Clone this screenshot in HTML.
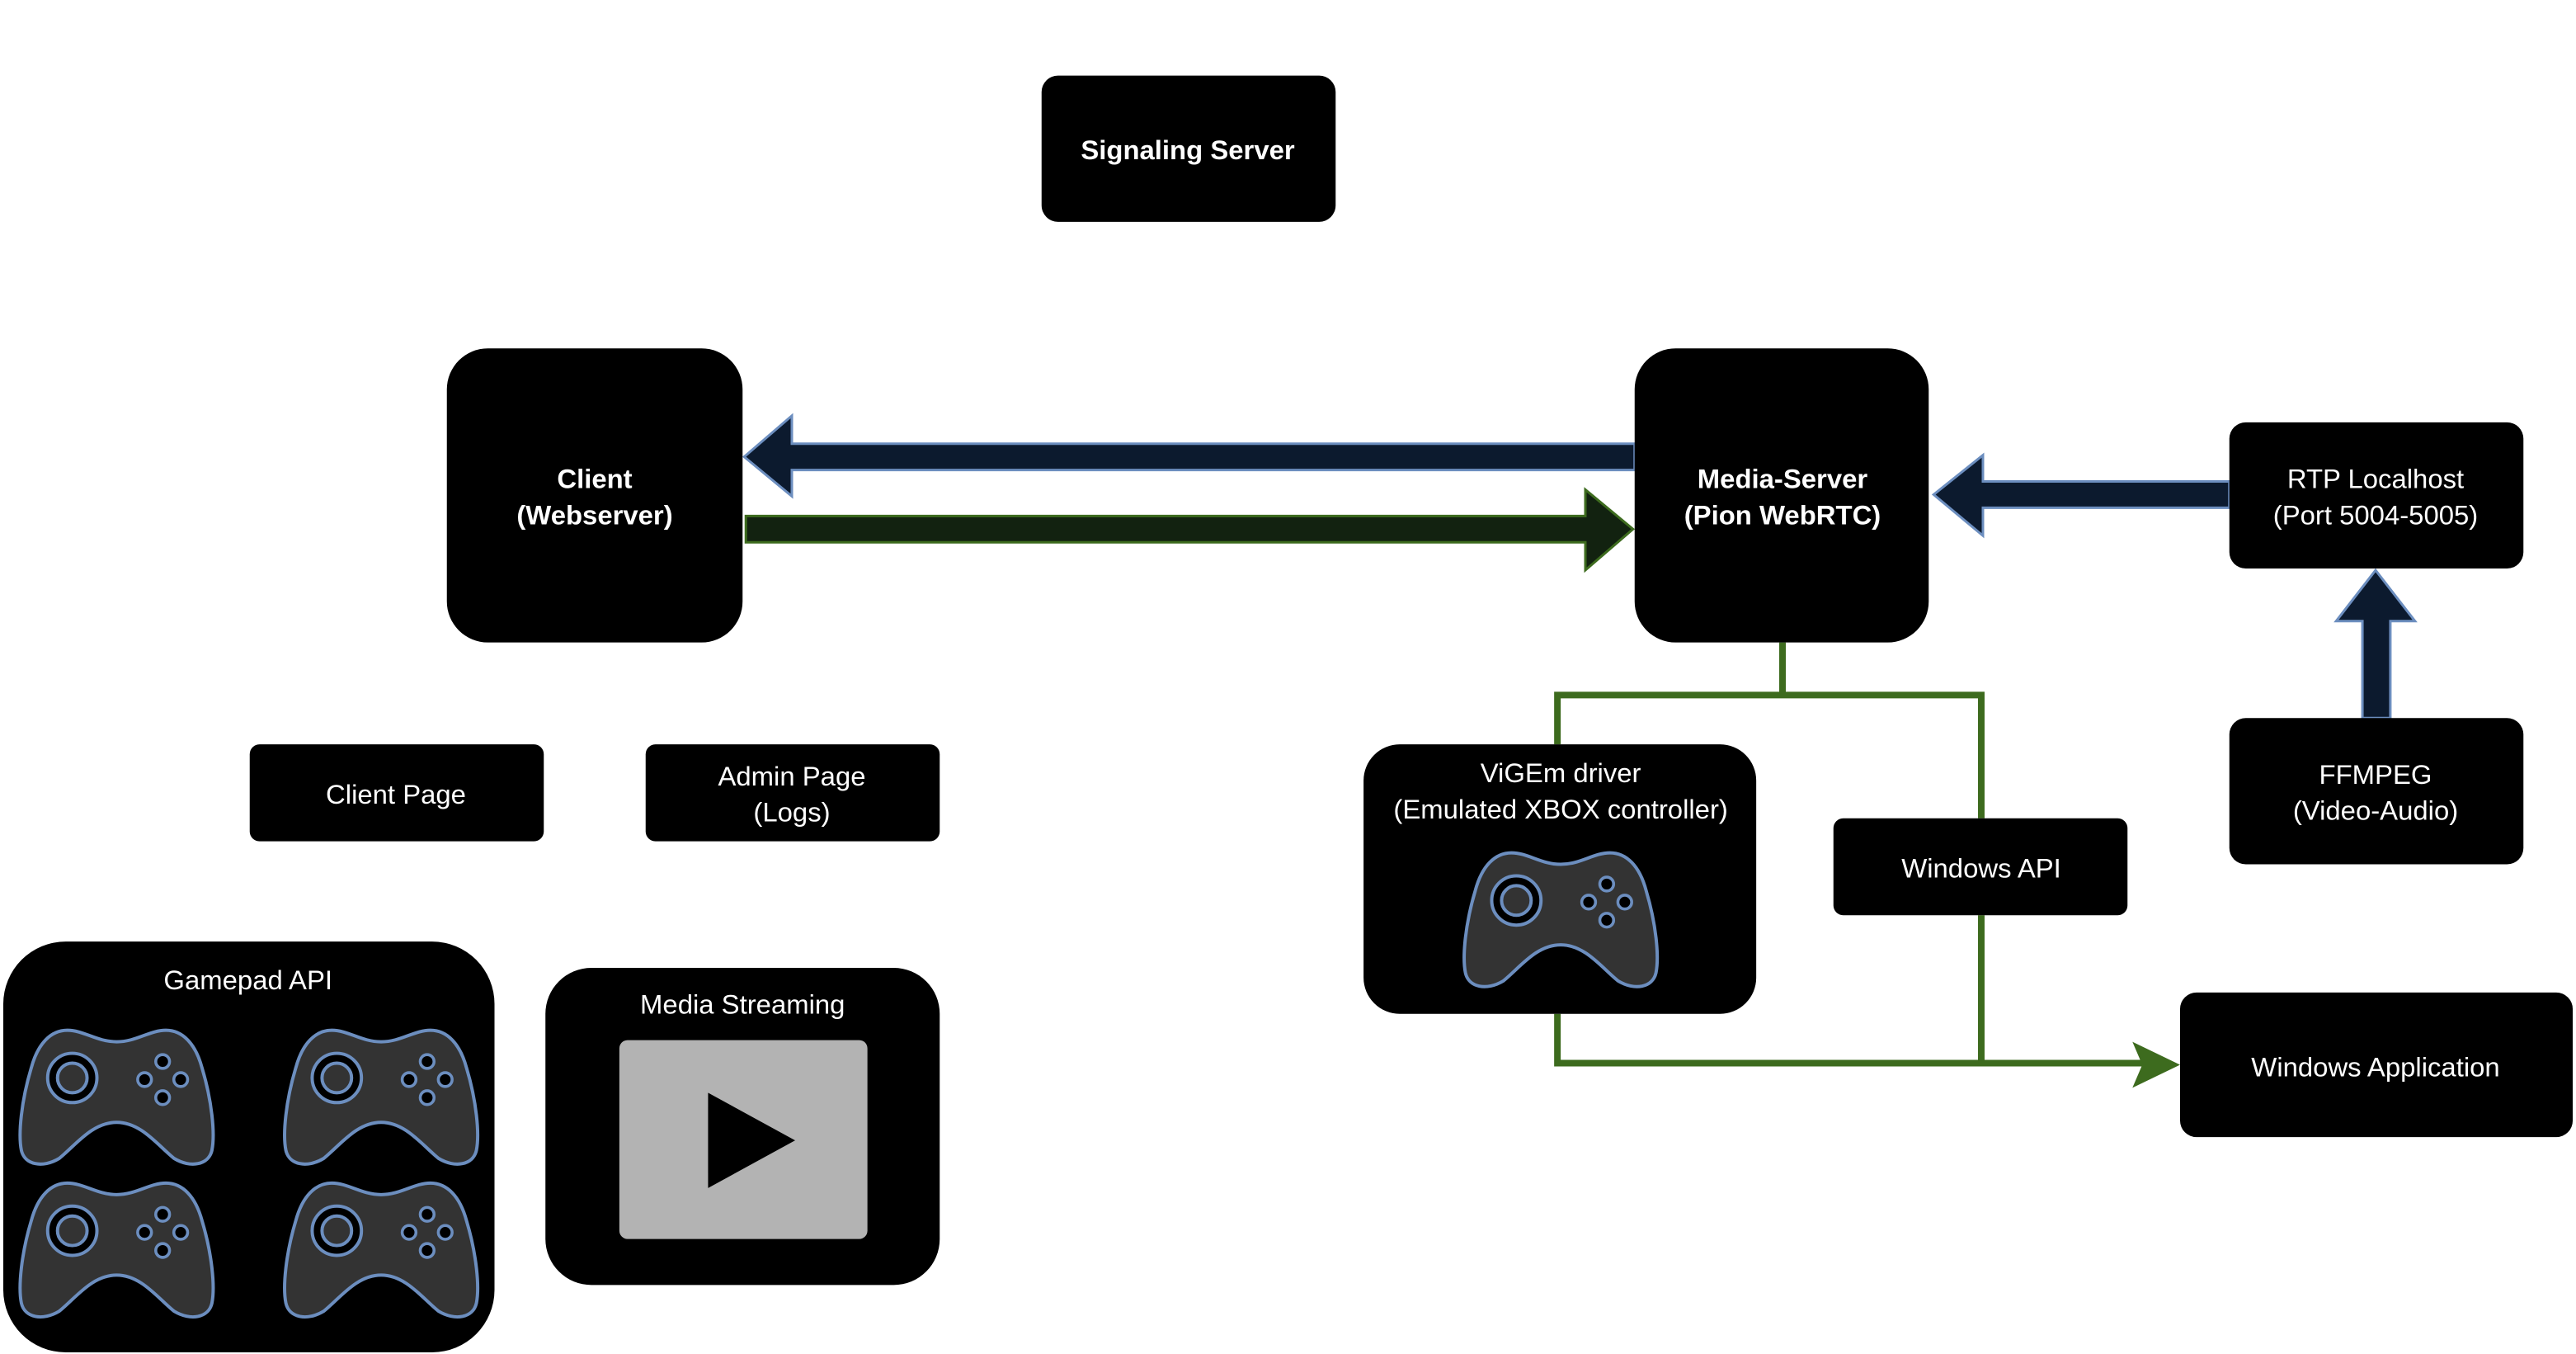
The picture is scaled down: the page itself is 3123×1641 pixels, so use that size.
<!DOCTYPE html>
<html><head><style>html,body{margin:0;padding:0;background:#fff}svg{display:block}</style></head>
<body>
<svg width="3123" height="1641" viewBox="0 0 1568 824" preserveAspectRatio="none" xmlns="http://www.w3.org/2000/svg" font-family="Liberation Sans, Arial, sans-serif">
<defs>
<g id="pad">
<path d="M30 2 C20 2 12 10 8 25 C2 45 0 65 2 75 C4 84 15 86 25 80 C35 72 45 58 60 58 C75 58 85 72 95 80 C105 86 116 84 118 75 C120 65 118 45 112 25 C108 10 100 2 90 2 C80 2 72 9 60 9 C48 9 40 2 30 2 Z" fill="#333" stroke="#6c8ebf" stroke-width="2"/>
<circle cx="33" cy="31" r="15" fill="#000" stroke="#6c8ebf" stroke-width="2"/>
<circle cx="33" cy="31" r="9" fill="#333" stroke="#6c8ebf" stroke-width="2"/>
<circle cx="88" cy="21" r="4.2" fill="#000" stroke="#6c8ebf" stroke-width="1.8"/>
<circle cx="88" cy="43" r="4.2" fill="#000" stroke="#6c8ebf" stroke-width="1.8"/>
<circle cx="77" cy="32" r="4.2" fill="#000" stroke="#6c8ebf" stroke-width="1.8"/>
<circle cx="99" cy="32" r="4.2" fill="#000" stroke="#6c8ebf" stroke-width="1.8"/>
</g>
</defs>
<rect width="1568" height="824" fill="#fff"/>

<g stroke="#3d6b1e" stroke-width="4" fill="none">
<path d="M1085 391 V423 M948 423 H1206 M948 421 V453 M1206 421 V498 M1206 557 V647 M948 617 V647 H1305"/>
</g>
<path d="M1298 634 L1327 648 L1298 662 L1304 648 Z" fill="#3d6b1e"/>

<path d="M995 270 H482 V253 L453 278 L482 302 V286 H995 Z" fill="#0c1a2e" stroke="#6c8ebf" stroke-width="1.5"/>
<path d="M454 314 H965 V298 L994 322 L965 347 V330 H454 Z" fill="#122210" stroke="#3d6b1e" stroke-width="1.5"/>
<path d="M1357 293 H1207 V277 L1177 301 L1207 326 V309 H1357 Z" fill="#0c1a2e" stroke="#6c8ebf" stroke-width="1.5"/>
<path d="M1438 437 V378 H1422 L1446 347 L1470 378 H1455 V437 Z" fill="#0c1a2e" stroke="#6c8ebf" stroke-width="1.5"/>

<g fill="#000">
<rect x="634" y="46" width="179" height="89" rx="10"/>
<rect x="272" y="212" width="180" height="179" rx="25"/>
<rect x="995" y="212" width="179" height="179" rx="25"/>
<rect x="1357" y="257" width="179" height="89" rx="10"/>
<rect x="1357" y="437" width="179" height="89" rx="10"/>
<rect x="152" y="453" width="179" height="59" rx="6"/>
<rect x="393" y="453" width="179" height="59" rx="6"/>
<rect x="2" y="573" width="299" height="250" rx="38"/>
<rect x="332" y="589" width="240" height="193" rx="28"/>
<rect x="830" y="453" width="239" height="164" rx="22"/>
<rect x="1116" y="498" width="179" height="59" rx="6"/>
<rect x="1327" y="604" width="239" height="88" rx="10"/>
</g>
<rect x="377" y="633" width="151" height="121" rx="5" fill="#b3b3b3"/>
<path d="M431 665 L484 694 L431 723 Z" fill="#000"/>

<use href="#pad" x="11" y="625"/>
<use href="#pad" x="172" y="625"/>
<use href="#pad" x="11" y="718"/>
<use href="#pad" x="172" y="718"/>
<use href="#pad" x="890" y="517"/>

<g fill="#fff" font-size="16.5" text-anchor="middle">
<text x="723" y="97" font-weight="bold">Signaling Server</text>
<text x="362" y="297" font-weight="bold">Client</text>
<text x="362" y="319" font-weight="bold">(Webserver)</text>
<text x="1085" y="297" font-weight="bold">Media-Server</text>
<text x="1085" y="319" font-weight="bold">(Pion WebRTC)</text>
<text x="1446" y="297">RTP Localhost</text>
<text x="1446" y="319">(Port 5004-5005)</text>
<text x="1446" y="477">FFMPEG</text>
<text x="1446" y="499">(Video-Audio)</text>
<text x="241" y="489">Client Page</text>
<text x="482" y="478">Admin Page</text>
<text x="482" y="500">(Logs)</text>
<text x="151" y="602">Gamepad API</text>
<text x="452" y="617">Media Streaming</text>
<text x="950" y="476">ViGEm driver</text>
<text x="950" y="498">(Emulated XBOX controller)</text>
<text x="1206" y="534">Windows API</text>
<text x="1446" y="655">Windows Application</text>
</g>
</svg>
</body></html>
